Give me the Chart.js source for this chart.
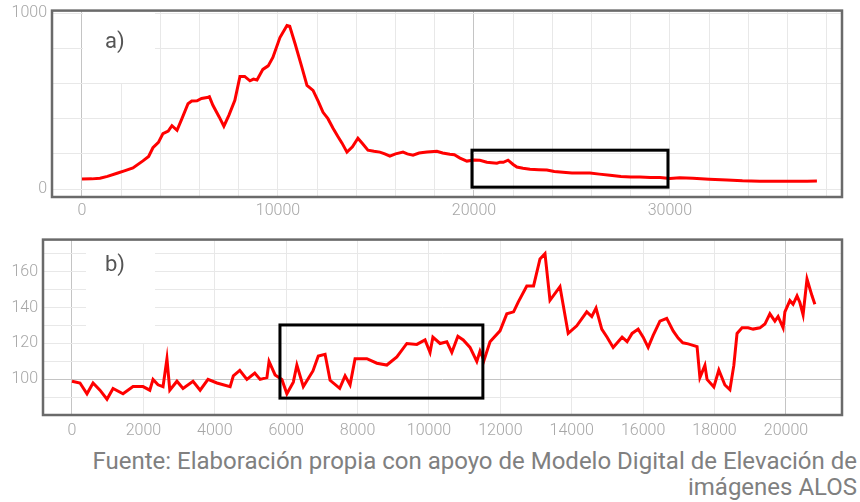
<!DOCTYPE html>
<html>
<head>
<meta charset="utf-8">
<script src="https://cdn.jsdelivr.net/npm/chart.js@4.4.1/dist/chart.umd.min.js"></script>
<style>
  html, body { margin: 0; padding: 0; background: #fff; }
  body { width: 860px; height: 502px; position: relative; overflow: hidden; }
  .panel { position: absolute; left: 0; width: 860px; }
  #wrapA { top: -4px; height: 229px; }
  #wrapB { top: 225px; height: 220px; }
  #caption {
    position: absolute; right: 3px; top: 448px;
    font-family: Roboto, "Noto Sans", sans-serif; font-size: 24px; line-height: 26px;
    color: #808080; text-align: right; white-space: nowrap;
  }
</style>
</head>
<body>
<div class="panel" id="wrapA"><canvas id="profileA"></canvas></div>
<div class="panel" id="wrapB"><canvas id="profileB"></canvas></div>
<div id="caption">Fuente: Elaboración propia con apoyo de Modelo Digital de Elevación de<br>imágenes ALOS</div>
<script>
// a) full profile
const distA = [0, 500, 918, 1300, 1790, 2200, 2600, 3110, 3400, 3620, 3900, 4130, 4400, 4590, 4850, 5100, 5410, 5600, 5870, 6100,
    6380, 6500, 6680, 7000, 7240, 7500, 7800, 8060, 8300, 8570, 8750, 8930, 9230, 9500, 9740, 10100, 10460, 10600, 10870, 11200,
    11480, 11790, 12050, 12300, 12550, 12810, 13050, 13270, 13520, 13800, 14080, 14300, 14590, 14900, 15200, 15450, 15710, 16000, 16380, 16600,
    16890, 17200, 17600, 18110, 18400, 18770, 19000, 19290, 19640, 20000, 20300, 20660, 20900, 21170, 21330, 21500, 21740, 22000, 22190, 22500,
    22860, 23300, 23720, 24100, 24540, 25000, 25400, 25920, 26400, 26940, 27500, 28000, 28470, 29000, 29490, 30000, 30500, 31170, 32000, 32910,
    33700, 34590, 35500, 36280, 37000, 37500];
const elevA = [57, 58, 62, 72, 90, 105, 120, 160, 185, 235, 265, 315, 330, 360, 334, 400, 485, 500, 502, 515,
    520, 525, 476, 410, 357, 420, 504, 640, 640, 615, 625, 620, 680, 700, 748, 861, 929, 925, 827, 700,
    589, 561, 500, 436, 400, 346, 300, 261, 210, 240, 289, 260, 221, 215, 210, 200, 187, 200, 210, 200,
    193, 205, 210, 215, 205, 198, 195, 176, 159, 165, 164, 153, 150, 147, 153, 152, 164, 140, 125, 118,
    113, 110, 108, 100, 96, 92, 92, 91, 85, 79, 72, 68, 68, 66, 66, 60, 64, 62, 56, 51,
    47, 45, 45, 45, 45, 46];
const boxA = [19900, 29900, 11, 221];   // x0, x1, y0, y1
const ticksAX = [0, 2000, 4000, 6000, 8000, 10000, 12000, 14000, 16000, 18000, 20000, 22000, 24000, 26000, 28000, 30000, 32000, 34000, 36000, 38000];
const labelsAX = [0, 10000, 20000, 30000];
const ticksAY = [0, 200, 400, 600, 800, 1000];
const labelsAY = [0, 1000];

// b) detail profile
const distB = [0, 224, 420, 590, 784, 980, 1150, 1430, 1710, 1990, 2180, 2270, 2410, 2550, 2660, 2740, 2940, 3110, 3390, 3590,
    3810, 4060, 4430, 4520, 4700, 4900, 5120, 5270, 5460, 5520, 5690, 5880, 6020, 6200, 6300, 6480, 6750, 6900, 7090, 7230,
    7500, 7650, 7790, 7930, 8260, 8540, 8820, 9100, 9380, 9660, 9890, 10030, 10110, 10310, 10500, 10640, 10810, 10960, 11150, 11340,
    11430, 11540, 11710, 11990, 12180, 12370, 12500, 12740, 12930, 13110, 13250, 13390, 13670, 13900, 14140, 14420, 14560, 14680, 14840, 14990,
    15160, 15410, 15550, 15690, 15860, 16000, 16140, 16280, 16470, 16660, 16840, 16980, 17110, 17260, 17510, 17590, 17730, 17790, 17980, 18120,
    18290, 18430, 18540, 18630, 18770, 18940, 19080, 19270, 19410, 19550, 19690, 19780, 19920, 19970, 20110, 20200, 20310, 20390, 20480, 20590,
    20730, 20810];
const elevB = [99, 98, 92, 98, 94, 89, 95, 92, 96, 96, 94, 100, 97, 96, 111.5, 94, 99, 95, 99, 94,
    100, 98, 96, 102, 105, 100, 103.5, 100, 101, 110, 102.5, 100, 92, 98.5, 108, 96, 104.7, 113, 114, 99.5,
    95, 102, 97, 111.5, 111.5, 109, 108, 112.5, 120, 119.5, 122, 115, 123.5, 120, 121, 115, 124, 122, 117.8, 110,
    115.7, 110.5, 121, 127, 136.5, 137.6, 143, 152, 152, 167, 170, 144, 151.6, 125.6, 129.8, 137.6, 135, 139.7, 128, 123.5,
    117.8, 123.5, 121, 125.6, 128, 123.5, 117.8, 124.5, 132.4, 134, 127, 123, 120.4, 119.8, 118.3, 101, 107.8, 100, 95.8, 105.2,
    96.9, 94.3, 107.8, 125.6, 128.7, 128.7, 128, 128.7, 130.8, 136.5, 132.4, 135, 128.7, 137.6, 143.9, 141.8, 146.5, 142.8, 136, 155.9,
    146.5, 141.8];
const boxB = [5826, 11510, 89.6, 130.3];
const ticksBX = [0, 2000, 4000, 6000, 8000, 10000, 12000, 14000, 16000, 18000, 20000];
const ticksBY = [80, 90, 100, 110, 120, 130, 140, 150, 160, 170];
const labelsBY = [100, 120, 140, 160];

const tickFont = { family: 'Roboto, sans-serif', size: 16, weight: '300' };
const tickColor = '#a6a6a6';

// frame, label box and highlight rectangle
const decor = {
    id: 'decor',
    beforeDatasetsDraw(chart, args, opts) {
        const ctx = chart.ctx;
        ctx.save();
        ctx.fillStyle = '#fff';
        ctx.fillRect(opts.bx[0], opts.bx[1], opts.bx[2], opts.bx[3]);
        ctx.fillStyle = '#555';
        ctx.font = '22px Roboto, sans-serif';
        ctx.textBaseline = 'middle';
        ctx.fillText(opts.label, opts.lx, opts.ly);
        ctx.restore();
    },
    afterDatasetsDraw(chart, args, opts) {
        const ctx = chart.ctx;
        const a = chart.chartArea;
        const xs = chart.scales.x, ys = chart.scales.y;
        const b = opts.box;
        ctx.save();
        ctx.strokeStyle = '#000';
        ctx.lineWidth = 3;
        const x0 = xs.getPixelForValue(b[0]), x1 = xs.getPixelForValue(b[1]);
        const y0 = ys.getPixelForValue(b[2]), y1 = ys.getPixelForValue(b[3]);
        ctx.strokeRect(x0, y1, x1 - x0, y0 - y1);
        ctx.strokeStyle = '#6a6a6a';
        ctx.lineWidth = 2.5;
        ctx.strokeRect(a.left, a.top, a.right - a.left, a.bottom - a.top);
        ctx.restore();
    }
};

function makeChart(id, dist, elev, cfg) {
    return new Chart(document.getElementById(id), {
        type: 'line',
        data: {
            datasets: [{
                data: dist.map((d, i) => ({ x: d, y: elev[i] })),
                borderColor: '#ff0000',
                borderWidth: 3,
                pointRadius: 0,
                tension: 0
            }]
        },
        options: {
            responsive: true,
            maintainAspectRatio: false,
            animation: false,
            layout: { autoPadding: false, padding: cfg.padding },
            plugins: {
                legend: { display: false },
                tooltip: { enabled: false },
                decor: cfg.decor
            },
            scales: {
                x: {
                    type: 'linear',
                    min: cfg.xMin, max: cfg.xMax,
                    afterBuildTicks: (s) => { s.ticks = cfg.ticksX.map(v => ({ value: v })); },
                    afterFit: (s) => { s.height = cfg.xHeight; },
                    border: { display: false },
                    grid: {
                        drawTicks: false,
                        color: (c) => cfg.darkX.includes(c.tick.value) ? '#c4c4c4' : '#e8e8e8'
                    },
                    ticks: {
                        font: tickFont, color: tickColor, padding: cfg.xPad, maxRotation: 0, autoSkip: false,
                        callback: (v) => cfg.labelsX.includes(v) ? String(v) : ''
                    }
                },
                y: {
                    min: cfg.yMin, max: cfg.yMax,
                    afterBuildTicks: (s) => { s.ticks = cfg.ticksY.map(v => ({ value: v })); },
                    afterFit: (s) => { s.width = cfg.yWidth; },
                    border: { display: false },
                    grid: {
                        drawTicks: false,
                        color: (c) => cfg.darkY.includes(c.tick.value) ? '#c4c4c4' : '#e8e8e8'
                    },
                    ticks: {
                        font: tickFont, color: tickColor, padding: 5, autoSkip: false,
                        callback: (v) => cfg.labelsY.includes(v) ? String(v) : ''
                    }
                }
            }
        },
        plugins: [decor]
    });
}

makeChart('profileA', distA, elevA, {
    padding: { top: 14, right: 18, left: 0, bottom: 0 },
    xMin: -1530, xMax: 38780, yMin: -45, yMax: 1014,
    ticksX: ticksAX, labelsX: labelsAX, ticksY: ticksAY, labelsY: labelsAY,
    darkX: [0, 20000], darkY: [],
    xHeight: 28, yWidth: 52, xPad: 4,
    decor: { box: boxA, bx: [83, 15, 72, 72], label: 'a)', lx: 105, ly: 46 }
});

makeChart('profileB', distB, elevB, {
    padding: { top: 3, right: 18, left: 0, bottom: 0 },
    xMin: -812, xMax: 21570, yMin: 80.2, yMax: 177.8,
    ticksX: ticksBX, labelsX: ticksBX, ticksY: ticksBY, labelsY: labelsBY,
    darkX: [0, 20000], darkY: [100],
    xHeight: 30, yWidth: 43, xPad: 6,
    decor: { box: boxB, bx: [86, 4, 69, 114], label: 'b)', lx: 105, ly: 40 }
});
</script>
</body>
</html>
